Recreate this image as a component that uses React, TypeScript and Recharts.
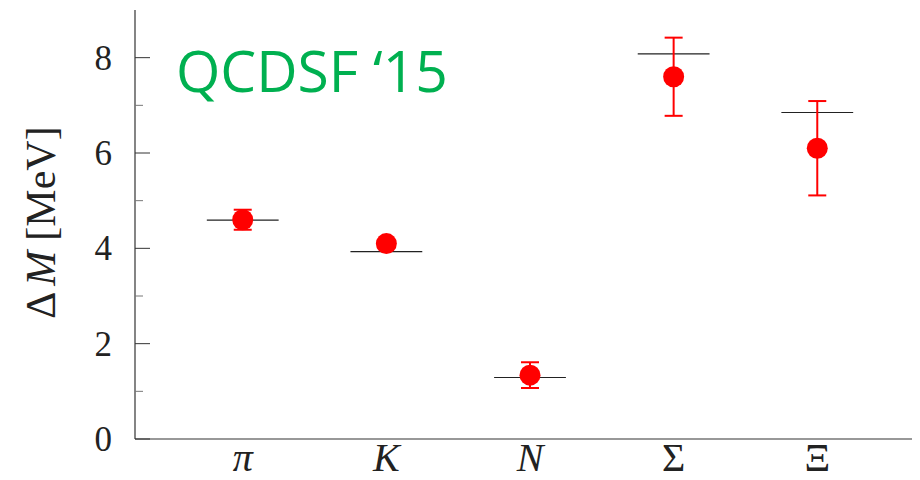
import { ComposedChart, Scatter, XAxis, YAxis, ErrorBar, ReferenceLine } from 'recharts'

// Isospin mass splittings per hadron
const particles = ['π', 'K', 'N', 'Σ', 'Ξ']
const italicParticles = ['π', 'K', 'N']
const positions = [1, 2, 3, 4, 5]
const deltaM = [4.6, 4.1, 1.34, 7.6, 6.1]
const deltaMErr = [0.21, 0.08, 0.27, 0.82, 0.99]
// experimental values, drawn as short horizontal bars
const experiment = [4.59, 3.93, 1.29, 8.08, 6.85]
const yTicks = [0, 1, 2, 3, 4, 5, 6, 7, 8]

const SERIF = '"Liberation Serif", "Times New Roman", serif'
const RED = '#ff0000'
const AXIS = '#333'

const points = positions.map((x, i) => ({ x, y: deltaM[i], err: deltaMErr[i] }))

function LeftTick(props: any) {
  const { x, y, payload } = props
  const major = payload.value % 2 === 0
  return (
    <g>
      <line x1={x} x2={x + (major ? 15 : 8)} y1={y} y2={y} stroke={major ? AXIS : '#777'} strokeWidth={1} />
      {major && (
        <text x={x - 23} y={y + 12} textAnchor="end" fontFamily={SERIF} fontSize={35} fill="#222">
          {payload.value}
        </text>
      )}
    </g>
  )
}

function RightTick(props: any) {
  const { x, y, payload } = props
  const major = payload.value % 2 === 0
  return <line x1={x} x2={x - (major ? 15 : 8)} y1={y} y2={y} stroke={major ? AXIS : '#777'} strokeWidth={1} />
}

function BottomTick(props: any) {
  const { x, y, payload } = props
  const name = particles[payload.value - 1]
  return (
    <text
      x={x}
      y={y + 32}
      textAnchor="middle"
      fontFamily={SERIF}
      fontSize={40}
      fontStyle={italicParticles.includes(name) ? 'italic' : 'normal'}
      fill="#222"
    >
      {name}
    </text>
  )
}

function YLabel(props: any) {
  const { viewBox } = props
  const cx = viewBox.x + 47
  const cy = viewBox.y + viewBox.height / 2 - 2
  return (
    <text transform={`translate(${cx},${cy}) rotate(-90)`} textAnchor="middle" fontFamily={SERIF} fontSize={42} fill="#222">
      <tspan>Δ</tspan>
      <tspan dx={6} fontStyle="italic">M</tspan>
      <tspan dx={10}>[MeV]</tspan>
    </text>
  )
}

const Dot = (props: any) => <circle cx={props.cx} cy={props.cy} r={10.5} fill={RED} />

export default function App() {
  return (
    <div style={{ position: 'relative', width: 912, height: 472, overflow: 'hidden', background: '#fff' }}>
      <ComposedChart width={932} height={472} data={points} margin={{ top: 2, right: 15, bottom: 0, left: 0 }}>
        <XAxis
          dataKey="x"
          type="number"
          domain={[0.25, 5.75]}
          allowDataOverflow
          ticks={positions}
          interval={0}
          height={41}
          tickSize={0}
          tickMargin={0}
          tickLine={false}
          axisLine={{ stroke: AXIS, strokeWidth: 1.2 }}
          tick={<BottomTick />}
        />
        <XAxis
          xAxisId="top"
          orientation="top"
          type="number"
          domain={[0.25, 5.75]}
          allowDataOverflow
          height={0}
          tick={false}
          tickLine={false}
          axisLine={{ stroke: AXIS, strokeWidth: 1.2 }}
        />
        <YAxis
          type="number"
          domain={[0, 9]}
          allowDataOverflow
          ticks={yTicks}
          interval={0}
          width={127}
          tickSize={0}
          tickMargin={0}
          tickLine={false}
          axisLine={{ stroke: AXIS, strokeWidth: 1.2 }}
          tick={<LeftTick />}
          label={{ content: <YLabel /> }}
        />
        <YAxis
          yAxisId="right"
          orientation="right"
          type="number"
          domain={[0, 9]}
          allowDataOverflow
          ticks={yTicks}
          interval={0}
          width={0}
          tickSize={0}
          tickMargin={0}
          tickLine={false}
          axisLine={{ stroke: AXIS, strokeWidth: 1.2 }}
          tick={<RightTick />}
        />
        {experiment.map((v, i) => (
          <ReferenceLine
            key={i}
            segment={[
              { x: positions[i] - 0.25, y: v },
              { x: positions[i] + 0.25, y: v },
            ]}
            stroke="#222"
            strokeWidth={1.2}
          />
        ))}
        <Scatter dataKey="y" shape={<Dot />} isAnimationActive={false}>
          <ErrorBar dataKey="err" direction="y" width={9} stroke={RED} strokeWidth={2} isAnimationActive={false} />
        </Scatter>
      </ComposedChart>
      <svg width={912} height={472} style={{ position: 'absolute', left: 0, top: 0, pointerEvents: 'none' }}>
        <text x={168} y={84} fontFamily='"Open Sans", "Noto Sans", sans-serif' fontSize={57} fill="#00b050">
          QCDSF ‘15
        </text>
      </svg>
    </div>
  )
}
